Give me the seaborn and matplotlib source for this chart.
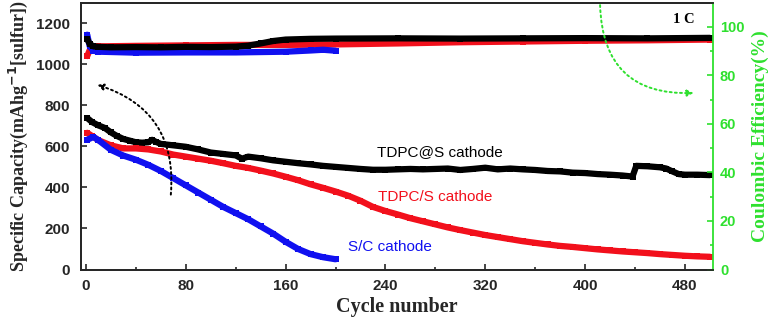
import matplotlib
matplotlib.use("Agg")
import matplotlib.pyplot as plt
import pandas as pd
import seaborn as sns
from matplotlib.ticker import MultipleLocator

# capacity (mAh/g)
tdpc_at_s_cycles = [1, 5, 10, 15, 20, 25, 30, 35, 40, 45, 50, 53, 56, 60, 70, 80, 90, 100, 110, 120,
                    125, 130, 140, 150, 160, 170, 180, 190, 200, 210, 220, 230, 240, 250, 260, 270, 280, 290, 300, 310,
                    320, 330, 340, 350, 360, 370, 380, 390, 400, 410, 420, 430, 438, 441, 450, 460, 465, 470, 475, 480,
                    490, 500]
tdpc_at_s_capacity = [738, 718, 702, 690, 668, 650, 636, 628, 620, 618, 620, 632, 622, 612, 605, 598, 585, 570, 563, 556,
                      540, 550, 542, 532, 525, 518, 512, 505, 500, 495, 490, 486, 486, 488, 490, 488, 490, 492, 485, 490,
                      496, 488, 492, 488, 485, 480, 478, 472, 470, 465, 462, 458, 453, 505, 503, 498, 492, 478, 465, 462,
                      462, 460]

tdpc_s_cycles = [1, 5, 10, 20, 30, 40, 50, 60, 70, 80, 90, 100, 110, 120, 130, 140, 150, 160, 170, 180,
                 190, 200, 210, 220, 230, 240, 250, 260, 270, 280, 290, 300, 310, 320, 330, 340, 350, 360, 370, 380,
                 390, 400, 410, 420, 430, 440, 450, 460, 470, 480, 490, 500]
tdpc_s_capacity = [666, 650, 630, 605, 590, 590, 585, 575, 560, 550, 540, 530, 518, 505, 495, 482, 468, 452, 435, 415,
                   398, 380, 360, 335, 305, 285, 268, 250, 235, 220, 205, 192, 180, 168, 158, 148, 138, 130, 122, 115,
                   110, 104, 98, 93, 88, 84, 80, 75, 71, 67, 64, 62]

sc_cycles = [1, 6, 10, 20, 30, 40, 50, 60, 70, 80, 90, 100, 110, 120, 130, 140, 150, 160, 170, 180, 190, 200]
sc_capacity = [632, 646, 630, 583, 555, 535, 510, 480, 445, 410, 375, 340, 305, 275, 245, 210, 175, 135, 100, 75, 60, 50]

# coulombic efficiency (%)
ce_black_cycles = [1, 3, 6, 10, 20, 40, 60, 80, 100, 120, 130, 140, 150, 160, 180, 200, 250, 300, 350, 400, 450, 500]
ce_black = [95, 93, 92, 91.8, 91.6, 91.7, 91.6, 91.8, 91.7, 91.9, 92.3, 93.2, 94.2, 94.8, 95.1, 95.2, 95.3, 95.2,
            95.3, 95.4, 95.3, 95.5]
ce_red_cycles = [1, 3, 6, 10, 40, 80, 120, 160, 200, 250, 300, 350, 400, 450, 500]
ce_red = [88, 90.5, 91.6, 92, 92.2, 92.4, 92.6, 92.6, 92.8, 93.2, 93.7, 94, 94.3, 94.5, 94.8]
ce_blue_cycles = [1, 3, 6, 10, 40, 80, 120, 160, 180, 190, 200]
ce_blue = [96.8, 92, 90.2, 89.8, 89.4, 89.5, 89.5, 89.8, 90.3, 90.6, 90.2]

BLACK, RED, BLUE, GREEN = "#000000", "#f2101c", "#1010f0", "#2ee02e"

sns.set_style("ticks")
plt.rcParams["font.family"] = ["Liberation Sans", "DejaVu Sans"]
plt.rcParams["font.weight"] = "bold"

fig = plt.figure(figsize=(7.75, 3.21), dpi=100)
ax = fig.add_axes([0.1045, 0.1604, 0.8155, 0.8312])
ax2 = ax.twinx()

line_kw = dict(linewidth=4.5, marker="s", markersize=4.5, markeredgewidth=0)
for cyc, val, col in [(tdpc_at_s_cycles, tdpc_at_s_capacity, BLACK),
                      (tdpc_s_cycles, tdpc_s_capacity, RED),
                      (sc_cycles, sc_capacity, BLUE)]:
    df = pd.DataFrame({"cycle": cyc, "value": val})
    sns.lineplot(data=df, x="cycle", y="value", ax=ax, color=col, **line_kw)

for cyc, val, col in [(ce_red_cycles, ce_red, RED),
                      (ce_blue_cycles, ce_blue, BLUE),
                      (ce_black_cycles, ce_black, BLACK)]:
    df = pd.DataFrame({"cycle": cyc, "value": val})
    sns.lineplot(data=df, x="cycle", y="value", ax=ax2, color=col, **line_kw)

ax.set_xlim(-4, 502.5)
ax.set_ylim(0, 1300)
ax2.set_ylim(0, 110)
ax.xaxis.set_major_locator(MultipleLocator(80))
ax.xaxis.set_minor_locator(MultipleLocator(40))
ax.yaxis.set_major_locator(MultipleLocator(200))
ax2.yaxis.set_major_locator(MultipleLocator(20))
ax2.yaxis.set_minor_locator(MultipleLocator(10))

ax.tick_params(axis="both", which="both", direction="in", labelsize=11, width=1.2)
ax.tick_params(axis="x", pad=7)
ax.tick_params(axis="y", pad=8)
ax.tick_params(which="major", length=4)
ax.tick_params(which="minor", length=2)
ax2.tick_params(axis="y", which="both", direction="in", colors=GREEN, labelsize=10.5, width=1.2, pad=5)
ax2.tick_params(which="major", length=4)
ax2.tick_params(which="minor", length=2)
for lab in ax.get_xticklabels() + ax.get_yticklabels() + ax2.get_yticklabels():
    lab.set_fontweight("bold")

for side in ["left", "bottom", "top"]:
    ax.spines[side].set_linewidth(1.3)
    ax2.spines[side].set_linewidth(1.3)
ax2.spines["right"].set_color(GREEN)
ax2.spines["right"].set_linewidth(1.3)
ax.spines["right"].set_visible(False)

serif = ["Liberation Serif", "DejaVu Serif"]
ax.set_xlabel("Cycle number", fontsize=14.5, fontweight="bold", family=serif, labelpad=3)
ax.set_ylabel("Specific Capacity(mAhg$^{\\mathbf{-1}}$[sulfur])", fontsize=13, fontweight="bold",
              family=serif, labelpad=4)
ax2.set_ylabel("Coulombic Efficiency(%)", fontsize=14, fontweight="bold", family=serif,
               color=GREEN, labelpad=5)

ax.text(233, 573, "TDPC@S cathode", color=BLACK, fontsize=11, fontweight="normal", va="center")
ax.text(234, 355, "TDPC/S cathode", color=RED, fontsize=11, fontweight="normal", va="center")
ax.text(210, 112, "S/C cathode", color=BLUE, fontsize=11, fontweight="normal", va="center")
ax.text(479, 1216, "1 C", color=BLACK, fontsize=10.5, fontweight="bold", family=serif, ha="center", va="center")

ax.annotate("", xy=(9, 900), xytext=(68, 365),
            arrowprops=dict(arrowstyle="-|>", linestyle=":", linewidth=1.4, color=BLACK,
                            connectionstyle="arc3,rad=0.4", mutation_scale=9, shrinkA=0, shrinkB=0))
ax2.annotate("", xy=(487, 72.8), xytext=(412, 109),
             arrowprops=dict(arrowstyle="-|>", linestyle=":", linewidth=1.4, color=GREEN,
                             connectionstyle="arc3,rad=0.5", mutation_scale=9, shrinkA=0, shrinkB=0))

fig.savefig("out.png", dpi=100)
